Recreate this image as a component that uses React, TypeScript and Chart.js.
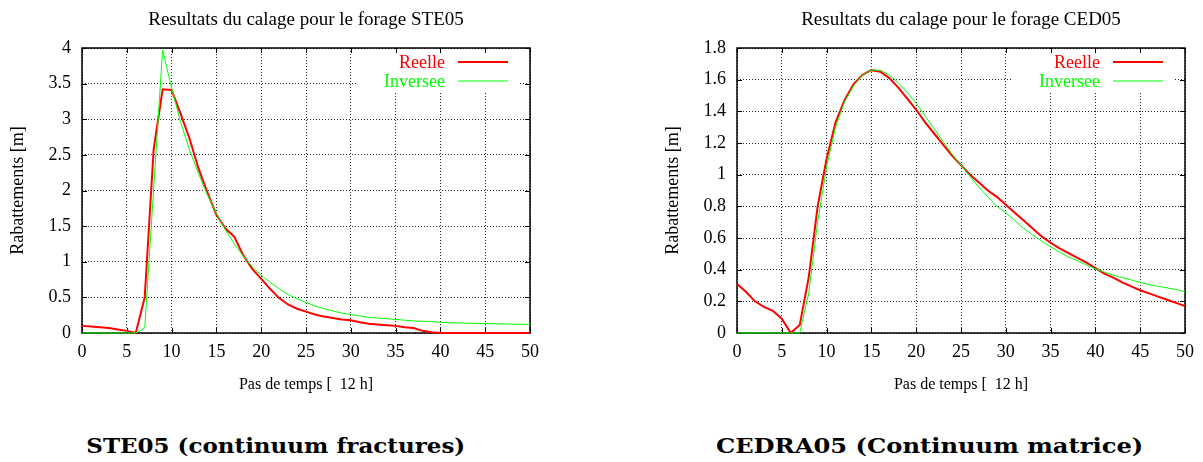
import React, { useEffect, useRef } from "react";
import { Chart, registerables } from "chart.js";

Chart.register(...registerables);

// ---------- data ----------
const steps = [
  0, 1, 2, 3, 4, 5, 6, 7, 8, 9, 10, 11, 12, 13, 14, 15, 16, 17, 18, 19, 20,
  21, 22, 23, 24, 25, 26, 27, 28, 29, 30, 31, 32, 33, 34, 35, 36, 37, 38, 39, 40,
  41, 42, 43, 44, 45, 46, 47, 48, 49, 50,
];

const steReelle = [
  0.1, 0.09, 0.08, 0.07, 0.05, 0.03, 0.0, 0.5, 2.58, 3.42, 3.41,
  3.08, 2.73, 2.31, 1.97, 1.66, 1.47, 1.35, 1.09, 0.9, 0.76,
  0.62, 0.49, 0.4, 0.34, 0.3, 0.26, 0.23, 0.21, 0.19, 0.18,
  0.15, 0.13, 0.12, 0.11, 0.1, 0.08, 0.07, 0.03, 0.01, 0.0,
  0.0, 0.0, 0.0, 0.0, 0.0, 0.0, 0.0, 0.0, 0.0, 0.0,
];

const steInversee = [
  0.0, 0.0, 0.0, 0.0, 0.0, 0.0, 0.0, 0.07, 2.03, 3.97, 3.44,
  2.96, 2.57, 2.24, 1.94, 1.68, 1.45, 1.25, 1.08, 0.93, 0.81,
  0.71, 0.62, 0.54, 0.48, 0.43, 0.38, 0.34, 0.31, 0.28, 0.26,
  0.24, 0.22, 0.21, 0.2, 0.19, 0.18, 0.17, 0.165, 0.16, 0.15,
  0.145, 0.14, 0.138, 0.135, 0.132, 0.13, 0.128, 0.125, 0.123, 0.12,
];

const cedReelle = [
  0.31, 0.26, 0.2, 0.165, 0.14, 0.09, 0.0, 0.05, 0.35, 0.8, 1.1,
  1.33, 1.47, 1.57, 1.63, 1.66, 1.65, 1.61, 1.55, 1.48, 1.41,
  1.33, 1.26, 1.19, 1.12, 1.06, 1.0, 0.95, 0.9, 0.86, 0.81,
  0.76, 0.71, 0.66, 0.61, 0.57, 0.535, 0.505, 0.475, 0.445, 0.41,
  0.375, 0.35, 0.32, 0.295, 0.27, 0.25, 0.23, 0.21, 0.19, 0.17,
];

const cedInversee = [
  0.0, 0.0, 0.0, 0.0, 0.0, 0.0, 0.0, 0.0, 0.25, 0.7, 1.05,
  1.3, 1.46, 1.56, 1.63, 1.66, 1.66, 1.63, 1.58, 1.52, 1.45,
  1.37, 1.29, 1.21, 1.13, 1.06, 0.99, 0.92, 0.86, 0.8, 0.76,
  0.71, 0.66, 0.62, 0.58, 0.545, 0.51, 0.48, 0.455, 0.43, 0.405,
  0.385, 0.365, 0.35, 0.335, 0.32, 0.305, 0.295, 0.285, 0.275, 0.26,
];

const seriesLabels = ["Reelle", "Inversee"];
const titles = [
  "Resultats du calage pour le forage STE05",
  "Resultats du calage pour le forage CED05",
];
const captions = ["STE05 (continuum fractures)", "CEDRA05 (Continuum matrice)"];
const xTitle = "Pas de temps [  12 h]";
const yTitle = "Rabattements [m]";

const SERIF = "'Liberation Serif', 'Times New Roman', serif";

// ---------- plugins ----------
const framePlugin = {
  id: "gnuFrame",
  beforeDatasetsDraw(chart: any) {
    const { ctx, chartArea: a, scales } = chart;
    ctx.save();
    // legend white box
    ctx.fillStyle = "#ffffff";
    ctx.fillRect(a.right - 173, a.top + 1, 161, 43);
    // border
    ctx.strokeStyle = "#000";
    ctx.lineWidth = 1.5;
    ctx.strokeRect(a.left, a.top, a.right - a.left, a.bottom - a.top);
    // inner ticks
    ctx.lineWidth = 1;
    const tl = 5;
    scales.x.ticks.forEach((t: any) => {
      const px = Math.round(scales.x.getPixelForValue(t.value)) + 0.5;
      ctx.beginPath();
      ctx.moveTo(px, a.bottom);
      ctx.lineTo(px, a.bottom - tl);
      ctx.moveTo(px, a.top);
      ctx.lineTo(px, a.top + tl);
      ctx.stroke();
    });
    scales.y.ticks.forEach((t: any) => {
      const py = Math.round(scales.y.getPixelForValue(t.value)) + 0.5;
      ctx.beginPath();
      ctx.moveTo(a.left, py);
      ctx.lineTo(a.left + tl, py);
      ctx.moveTo(a.right, py);
      ctx.lineTo(a.right - tl, py);
      ctx.stroke();
    });
    ctx.restore();
  },
  afterDatasetsDraw(chart: any) {
    const { ctx, chartArea: a } = chart;
    ctx.save();
    ctx.font = `18px ${SERIF}`;
    ctx.textAlign = "right";
    ctx.textBaseline = "middle";
    chart.data.datasets.forEach((ds: any, i: number) => {
      const y = a.top + 14 + i * 19;
      ctx.fillStyle = ds.borderColor;
      ctx.fillText(ds.label, a.right - 85, y + 1);
      ctx.strokeStyle = ds.borderColor;
      ctx.lineWidth = ds.borderWidth;
      ctx.beginPath();
      ctx.moveTo(a.right - 72, y);
      ctx.lineTo(a.right - 22, y);
      ctx.stroke();
    });
    ctx.restore();
  },
};

type PanelProps = {
  title: string;
  reelle: number[];
  inversee: number[];
  yMax: number;
  yStep: number;
  width: number;
  yAxisWidth: number;
  rightPad: number;
  yTitlePad: number;
};

function Panel(p: PanelProps) {
  const ref = useRef<HTMLCanvasElement | null>(null);
  useEffect(() => {
    if (!ref.current) return;
    const chart = new Chart(ref.current, {
      type: "line",
      data: {
        datasets: [
          {
            label: seriesLabels[0],
            data: steps.map((x, i) => ({ x, y: p.reelle[i] })),
            borderColor: "#ff0000",
            borderWidth: 2,
            pointRadius: 0,
            tension: 0,
            order: 1,
            clip: 4,
          },
          {
            label: seriesLabels[1],
            data: steps.map((x, i) => ({ x, y: p.inversee[i] })),
            borderColor: "#00ff00",
            borderWidth: 1,
            pointRadius: 0,
            tension: 0,
            order: 0,
            clip: 4,
          },
        ],
      },
      options: {
        animation: false,
        responsive: false,
        devicePixelRatio: 1,
        layout: { padding: { left: 0, right: p.rightPad, top: 0, bottom: 0 } },
        plugins: {
          legend: { display: false },
          tooltip: { enabled: false },
          title: {
            display: true,
            text: p.title,
            fullSize: false,
            color: "#000",
            font: { family: SERIF, size: 19, weight: "normal", lineHeight: 1.2 },
            padding: { top: 8.6, bottom: 16.6 },
          },
        },
        scales: {
          x: {
            type: "linear",
            min: 0,
            max: 50,
            ticks: {
              stepSize: 5,
              color: "#000",
              padding: 8,
              font: { family: SERIF, size: 18, lineHeight: 1.2 },
            },
            grid: {
              color: "rgba(0,0,0,0.85)",
              drawTicks: false,
              lineWidth: 1,
            },
            border: { display: false, dash: [1, 2] },
            title: {
              display: true,
              text: xTitle,
              color: "#000",
              font: { family: SERIF, size: 16, lineHeight: 1.2 },
              padding: { top: 0, bottom: 5.4 },
            },
            afterFit: (s: any) => {
              s.height = 67;
            },
          },
          y: {
            type: "linear",
            min: 0,
            max: p.yMax,
            ticks: {
              stepSize: p.yStep,
              color: "#000",
              padding: 11,
              font: { family: SERIF, size: 18, lineHeight: 1.2 },
              callback: (v: any) => String(Math.round(Number(v) * 10) / 10),
            },
            grid: {
              color: "rgba(0,0,0,0.85)",
              drawTicks: false,
              lineWidth: 1,
            },
            border: { display: false, dash: [1, 2] },
            title: {
              display: true,
              text: yTitle,
              color: "#000",
              font: { family: SERIF, size: 18, lineHeight: 1.2 },
              padding: { top: p.yTitlePad, bottom: 0 },
            },
            afterFit: (s: any) => {
              s.width = p.yAxisWidth;
            },
          },
        },
      } as any,
      plugins: [framePlugin],
    });
    return () => chart.destroy();
  }, []);
  return (
    <canvas
      ref={ref}
      width={p.width}
      height={400}
      style={{ width: p.width, height: 400, display: "block" }}
    />
  );
}

const captionStyle: React.CSSProperties = {
  position: "absolute",
  top: 437,
  fontFamily: "'DejaVu Serif', serif",
  fontWeight: "bold",
  fontSize: 20,
  lineHeight: "19px",
  textAlign: "center",
  whiteSpace: "pre",
  color: "#000",
};

export default function App() {
  return (
    <div
      style={{
        position: "absolute",
        left: 0,
        top: 0,
        width: 1203,
        height: 462,
        background: "#fff",
        overflow: "hidden",
      }}
    >
      <div style={{ position: "absolute", left: 0, top: 0 }}>
        <Panel
          title={titles[0]}
          reelle={steReelle}
          inversee={steInversee}
          yMax={4}
          yStep={0.5}
          width={560}
          yAxisWidth={82}
          rightPad={30}
          yTitlePad={7.2}
        />
      </div>
      <div style={{ position: "absolute", left: 640, top: 0 }}>
        <Panel
          title={titles[1]}
          reelle={cedReelle}
          inversee={cedInversee}
          yMax={1.8}
          yStep={0.2}
          width={563}
          yAxisWidth={97}
          rightPad={18}
          yTitlePad={22.2}
        />
      </div>
      <div style={{ ...captionStyle, left: 0, width: 551 }}>
        <span style={{ display: "inline-block", transform: "scaleX(1.15)" }}>
          {captions[0]}
        </span>
      </div>
      <div style={{ ...captionStyle, left: 640, width: 580 }}>
        <span style={{ display: "inline-block", transform: "scaleX(1.21)" }}>
          {captions[1]}
        </span>
      </div>
    </div>
  );
}
